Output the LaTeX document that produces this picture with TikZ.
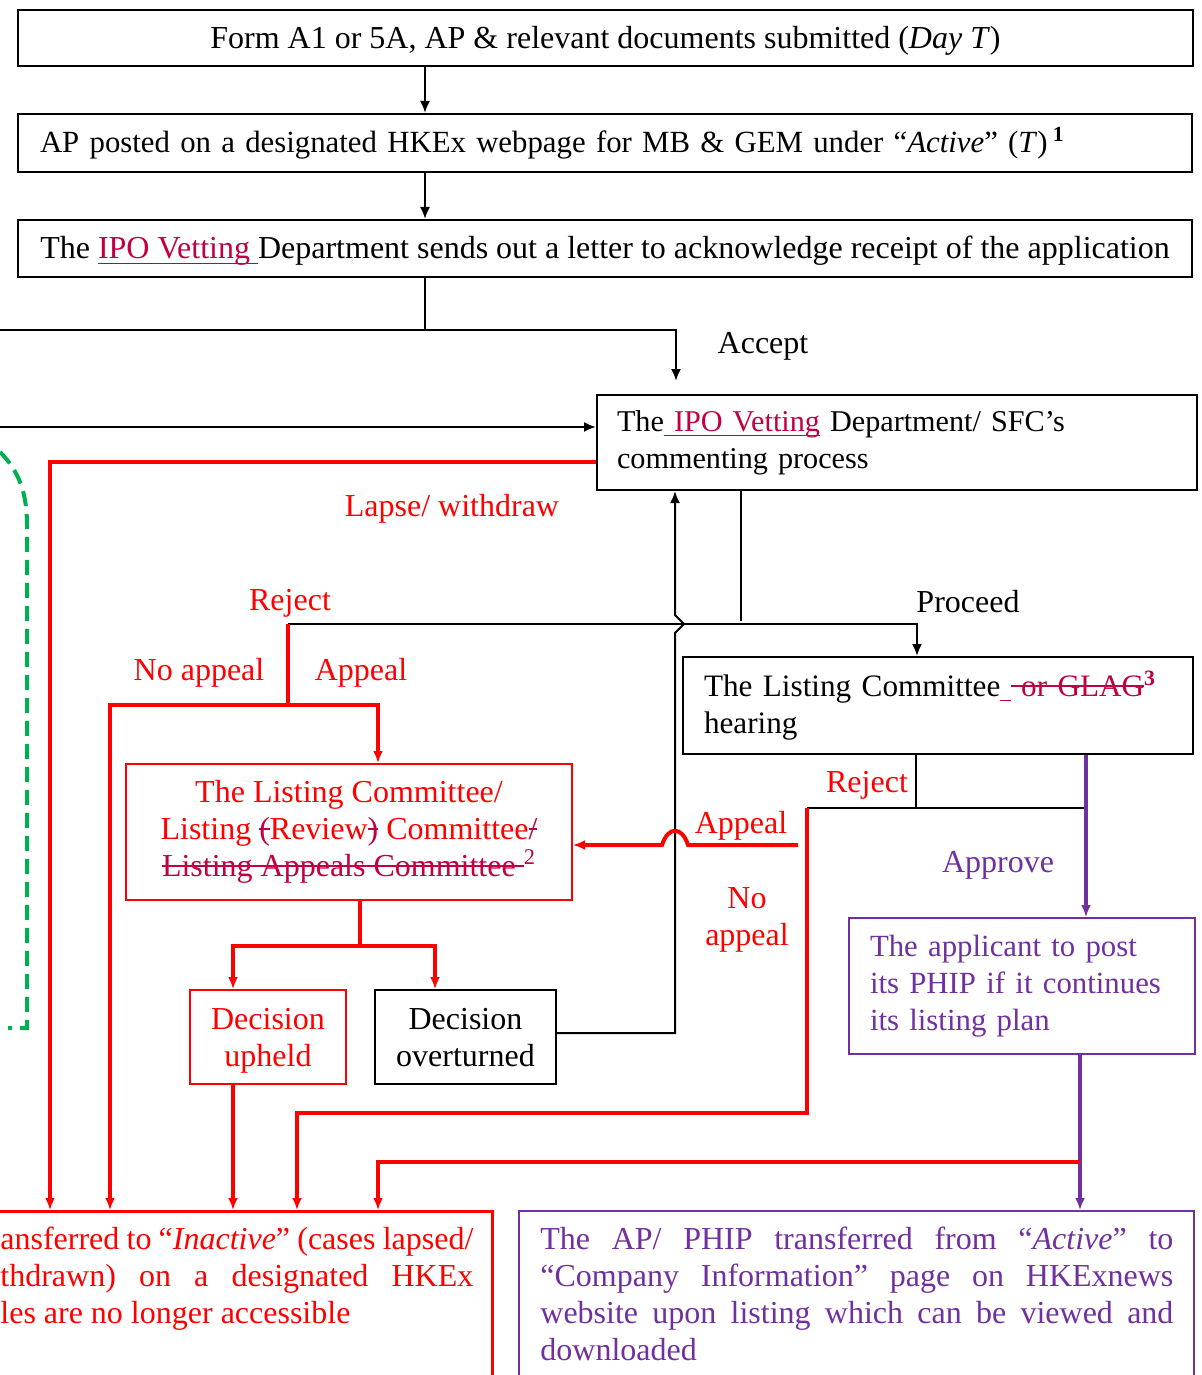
\documentclass[tikz,border=0pt]{standalone}
\usepackage{fontspec}
\setmainfont{Liberation Serif}
\usepackage{tikz}
\usetikzlibrary{arrows.meta}
\definecolor{crim}{RGB}{192,0,64}
\definecolor{purp}{RGB}{112,48,160}
\definecolor{grn}{RGB}{0,176,80}
\newsavebox{\mkbox}
\newcommand{\strk}[1]{\sbox{\mkbox}{#1}\rlap{\rule[0.3em]{\wd\mkbox}{0.8pt}}\usebox{\mkbox}}
\newcommand{\undl}[1]{\sbox{\mkbox}{#1}\rlap{\rule[-0.17em]{\wd\mkbox}{0.8pt}}\usebox{\mkbox}}

\begin{document}
\begin{tikzpicture}[x=0.5pt,y=-0.5pt,
    every node/.style={font=\fontsize{16}{18.5}\selectfont},
    box/.style={draw,line width=1pt,inner sep=0pt},
    redbox/.style={box,draw=red,text=red},
    purpbox/.style={box,draw=purp,text=purp},
    thinline/.style={line width=1pt},
    conn/.style={line width=1pt,-{Latex[length=6pt,width=5pt]}},
    redline/.style={line width=2pt,red},
    redconn/.style={line width=2pt,red,-{Latex[length=6pt,width=5pt]}},
    purpconn/.style={line width=2pt,purp,-{Latex[length=6pt,width=5pt]}},
    lab/.style={inner sep=1pt,text height=11pt,text depth=0pt},
    redlab/.style={lab,text=red}]
\useasboundingbox (0,0) rectangle (1202,1375);
\clip (0,0) rectangle (1202,1375);

% boxes
\node[box,minimum width=587.5pt,minimum height=28pt,text depth=0.5pt] (b1) at (605.5,38)
  {Form A1 or 5A, AP \& relevant documents submitted (\textit{Day T})};
\node[box,text width=565pt,inner xsep=11pt,minimum height=29pt,align=left,
      font=\fontsize{15.4}{18.5}\selectfont] (b2) at (605,143)
  {AP posted on a designated HKEx webpage for MB \& GEM under “\textit{Active}” (\textit{T})\,\textsuperscript{\textbf{1}}};
\node[box,minimum width=587pt,minimum height=28.5pt,text depth=1pt] (b3) at (605,248.5)
  {The \textcolor{crim}{\undl{IPO Vetting\ }}Department sends out a letter to acknowledge receipt of the application};
\node[box,text width=280pt,inner xsep=10pt,minimum height=47.5pt,align=left,
      font=\fontsize{15.1}{18.5}\selectfont] (b4) at (897,442.5)
  {The\textcolor{crim}{\undl{\ IPO Vetting}} Department/ SFC’s\\commenting process};
\node[box,text width=234pt,inner xsep=10.5pt,minimum height=48.5pt,align=left,
      font=\fontsize{15.6}{18.5}\selectfont] (b8) at (938,705.5)
  {The Listing Committee\textcolor{crim}{\undl{\ }\strk{\ or GLAG}\textsuperscript{\textbf{3}}}\\hearing};
\node[redbox,minimum width=223pt,minimum height=68pt,align=center] (b5) at (349,832)
  {The Listing Committee/\\Listing \textcolor{crim}{\strk{(}}Review\textcolor{crim}{\strk{)}} Committee\textcolor{crim}{\strk{/}}\\\textcolor{crim}{\strk{Listing Appeals Committee\ }\textsuperscript{2}}};
\node[redbox,minimum width=78pt,minimum height=47pt,align=center,text depth=-0.5pt] (b6) at (268,1037) {Decision\\upheld};
\node[box,minimum width=90.5pt,minimum height=47pt,align=center,text depth=-0.5pt] (b7) at (465.5,1037) {Decision\\overturned};
\node[purpbox,text width=152pt,inner xsep=10.5pt,minimum height=68pt,align=left,
      font=\fontsize{15.4}{18.5}\selectfont] (b9) at (1022,986)
  {The applicant to post\\its PHIP if it continues\\its listing plan};
\node[redbox,line width=1.5pt,minimum width=300pt,minimum height=120pt,anchor=north east] (b10) at (494,1210) {};
\node[text=red,inner sep=0pt,anchor=north west,align=left] (t10) at (0,1227)
  {\makebox[236.5pt][s]{ansferred to “\textit{Inactive}” (cases lapsed/}\\
   \makebox[236.5pt][s]{thdrawn) on a designated HKEx}\\
   les are no longer accessible};
\node[purpbox,minimum width=337.5pt,minimum height=120pt,anchor=north west] (b11) at (518,1210) {};
\node[text=purp,inner sep=0pt,anchor=north west,align=left] (t11) at (540,1227)
  {\makebox[316.5pt][s]{The AP/ PHIP transferred from “\textit{Active}” to}\\
   \makebox[316.5pt][s]{“Company Information” page on HKExnews}\\
   \makebox[316.5pt][s]{website upon listing which can be viewed and}\\
   downloaded};

% labels
\node[lab] (lAcc) at (763,342) {Accept};
\node[redlab] (lLap) at (452,505) {Lapse/ withdraw};
\node[redlab] (lRj1) at (290,599) {Reject};
\node[lab] (lPro) at (968,601) {Proceed};
\node[redlab] (lNa1) at (199,669) {No appeal};
\node[redlab] (lAp1) at (361,669) {Appeal};
\node[redlab] (lRj2) at (867,781) {Reject};
\node[redlab] (lAp2) at (741,822) {Appeal};
\node[inner sep=1pt,text=red,text depth=0pt,align=center] (lNa2) at (747,917) {No\\appeal};
\node[lab,text=purp] (lApv) at (998,861) {Approve};

% junctions
\coordinate (ax) at (425,0);
\coordinate (accL) at (0,330);
\coordinate (accR) at (676,330);
\coordinate (inL) at (0,427);
\coordinate (lapse) at (50,462);
\coordinate (pr) at (741,621);
\coordinate (rj) at (288,624);
\coordinate (prx) at (917,624);
\coordinate (rjd) at (288,705);
\coordinate (na) at (110,705);
\coordinate (ap) at (378,705);
\coordinate (dv) at (360,946);
\coordinate (dl) at (233,946);
\coordinate (dr) at (435,946);
\coordinate (ov) at (675,1033);
\coordinate (rj2) at (916,808);
\coordinate (rv) at (807,808);
\coordinate (pv) at (1086,808);
\coordinate (ap2) at (798,845);
\coordinate (nb) at (297,1113);
\coordinate (pb) at (1080,1162);
\coordinate (rb) at (378,1162);

% connectors
\draw[conn] (b1.south -| ax) -- (b2.north -| ax);
\draw[conn] (b2.south -| ax) -- (b3.north -| ax);
\draw[thinline] (b3.south -| ax) -- (ax |- accR);
\draw[conn,shorten >=6.5pt] (accL) -- (accR) -- (b4.north -| accR);
\draw[conn] (inL) -- (inL -| b4.west);
\draw[redconn] (lapse -| b4.west) -- (lapse) -- (lapse |- b10.north);
\draw[thinline] (b4.south -| pr) -- (pr);
\draw[conn] (rj) -- (prx) -- (b8.north -| prx);
\draw[redline] (rj) -- (rjd);
\draw[redconn] (rjd) -- (na) -- (na |- b10.north);
\draw[redconn] (rjd) -- (ap) -- (b5.north -| ap);
\draw[redline] (b5.south -| dv) -- (dv);
\draw[redconn] (dv) -- (dl) -- (b6.north -| dl);
\draw[redconn] (dv) -- (dr) -- (b7.north -| dr);
\draw[redconn] (b6.south -| dl) -- (dl |- b10.north);
\draw[conn] (b7.east |- ov) -- (ov) -- (675,633) -- (684,624) -- (675,615) -- (ov |- b4.south);
\draw[thinline] (b8.south -| rj2) -- (rj2);
\draw[thinline] (rv) -- (pv);
\draw[purpconn] (b8.south -| pv) -- (b9.north -| pv);
\draw[redconn] (rv) -- (rv |- nb) -- (nb) -- (nb |- b10.north);
\draw[redconn] (ap2) -- (688,845) .. controls (682,826) and (668,826) .. (662,845) -- (b5.east |- ap2);
\draw[purpconn] (b9.south -| pb) -- (pb |- b11.north);
\draw[redconn] (pb) -- (rb) -- (rb |- b10.north);
\draw[grn,line width=2pt,dash pattern=on 7.5pt off 4pt] (0,452) .. controls (20,472) and (27,495) .. (27,525) -- (27,1028) -- (8,1028);
\end{tikzpicture}
\end{document}
